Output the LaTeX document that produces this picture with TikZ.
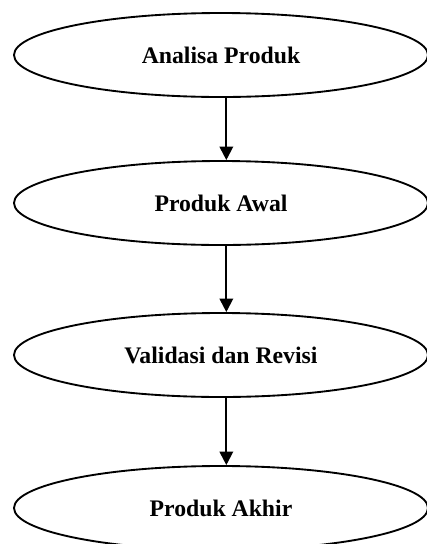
\documentclass[tikz,border=0pt]{standalone}
\usepackage{fontspec}
\setmainfont{Liberation Serif}
\usepackage{tikz}
\tikzset{>=latex}
\usetikzlibrary{shapes,arrows.meta}
\tikzset{proses/.style={ellipse,draw,line width=1.4pt,minimum width=310.5pt,minimum height=63pt,inner sep=0pt,font=\fontsize{17.8}{21}\selectfont\bfseries}}

\begin{document}
\begin{tikzpicture}[line cap=round,line join=round,>={Triangle[length=10pt,width=10pt]},x=0.75pt,y=-0.75pt]
		\useasboundingbox (0,0) rectangle (427,544);
		\node[proses] (analisa) at (221,55) {Analisa Produk};
		\node[proses] (awal) at (221,203) {Produk Awal};
		\node[proses] (validasi) at (221,355) {Validasi dan Revisi};
		\node[proses] (akhir) at (221,508) {Produk Akhir};
		\draw[->,line width=1.5pt] ([xshift=4pt]analisa.south) -- ([xshift=4pt]awal.north);
		\draw[->,line width=1.5pt] ([xshift=4pt]awal.south) -- ([xshift=4pt]validasi.north);
		\draw[->,line width=1.5pt] ([xshift=4pt]validasi.south) -- ([xshift=4pt]akhir.north);
		
		\end{tikzpicture}
\end{document}
